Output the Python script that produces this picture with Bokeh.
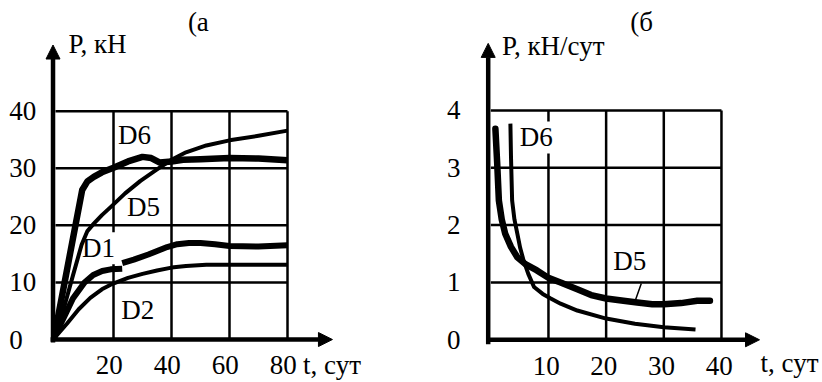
from bokeh.plotting import figure
from bokeh.layouts import row
from bokeh.models import Range1d, Arrow, NormalHead
from bokeh.core.properties import value
from bokeh.embed import file_html
from bokeh.resources import INLINE

FONT = value("Liberation Serif")
FS = value("27px")

# ---------------- chart (а) ----------------
a_t_ticks = [20, 40, 60, 80]
a_t_labels = ["20", "40", "60", "80"]
a_p_ticks = [0, 10, 20, 30, 40]
a_p_labels = ["0", "10", "20", "30", "40"]

a_d6_t = [-0.5, 9.2, 11, 13.2, 16, 20, 25, 30, 33, 36, 40, 44, 50, 60, 70, 80]
a_d6_p = [0.3, 26.2, 27.7, 28.5, 29.3, 30.1, 31.2, 32.0, 31.8, 31.0, 31.2, 31.5, 31.6, 31.8, 31.7, 31.4]

a_d5_t = [-0.5, 3, 6, 9, 11, 13.2, 16, 19, 24, 29.3, 35, 40, 45, 52, 60, 70, 80]
a_d5_p = [0.3, 5.7, 11.2, 16.6, 19.0, 20.3, 21.8, 23.2, 25.6, 27.8, 29.8, 31.5, 32.8, 34.0, 34.9, 35.7, 36.6]

a_d1a_t = [-0.5, 3, 6, 10, 13, 16.1, 19, 23]
a_d1a_p = [0.3, 4.0, 7.2, 10.0, 11.3, 12.0, 12.3, 12.4]
a_d1b_t = [23, 27, 32, 38.5, 42, 46, 50, 55, 60, 70, 80]
a_d1b_p = [13.4, 14.0, 14.9, 16.2, 16.7, 16.9, 16.9, 16.7, 16.4, 16.3, 16.5]

a_d2_t = [-0.5, 4, 8, 12, 16, 19, 25, 30, 35, 40, 45, 52, 60, 70, 80]
a_d2_p = [0.2, 2.8, 5.3, 7.3, 8.8, 9.6, 10.8, 11.5, 12.1, 12.6, 12.9, 13.1, 13.1, 13.1, 13.1]

a_lab_text = ["D6", "D5", "D1", "D2"]
a_lab_t = [27.2, 30.3, 14.8, 28.4]
a_lab_p = [35.8, 23.2, 16.0, 5.1]

# ---------------- chart (б) ----------------
b_t_ticks = [10, 20, 30, 40]
b_t_labels = ["10", "20", "30", "40"]
b_p_ticks = [0, 1, 2, 3, 4]
b_p_labels = ["0", "1", "2", "3", "4"]

b_d5_t = [0.8, 1.1, 1.4, 1.9, 2.5, 3.5, 4.6, 6, 8, 10, 12.1, 15, 17.4, 20, 23, 25.4, 28, 30, 33, 35.8, 38]
b_d5_p = [3.68, 3.1, 2.43, 2.1, 1.85, 1.62, 1.44, 1.32, 1.21, 1.08, 1.0, 0.88, 0.78, 0.72, 0.68, 0.65, 0.62, 0.62, 0.64, 0.68, 0.68]

b_d6_t = [3.4, 3.5, 3.7, 4.1, 4.6, 5.1, 5.7, 6.5, 7.5, 9, 10.4, 12.1, 15, 20, 25, 30, 35.5]
b_d6_p = [3.77, 3.2, 2.43, 2.1, 1.85, 1.6, 1.38, 1.15, 0.92, 0.8, 0.72, 0.63, 0.51, 0.37, 0.28, 0.22, 0.18]

b_lab_text = ["D6", "D5"]
b_lab_t = [7.9, 24.1]
b_lab_p = [3.53, 1.37]
b_lead_t = [26.1, 25.1]
b_lead_p = [0.98, 0.70]


def make_fig(w, h, xr, yr):
    p = figure(width=w, height=h, x_range=Range1d(*xr), y_range=Range1d(*yr),
               output_backend="svg", toolbar_location=None, min_border=0,
               x_axis_type=None, y_axis_type=None, outline_line_color=None)
    p.background_fill_color = "white"
    p.border_fill_color = "white"
    return p


def grid(p, xt, yt):
    x0, x1 = 0, max(xt)
    y0, y1 = 0, max(yt)
    hy = [v for v in yt if v != 0]
    p.segment(x0=[x0] * len(hy), x1=[x1] * len(hy), y0=hy, y1=hy, line_color="black", line_width=2.5)
    p.segment(x0=xt, x1=xt, y0=[y0] * len(xt), y1=[y1] * len(xt), line_color="black", line_width=2.5)


def axes(p, x_start, y_start, x_tip, y_tip, x_axis_y, y_axis_x):
    p.add_layout(Arrow(end=NormalHead(size=14, fill_color="black", line_color="black", line_width=1),
                       x_start=y_axis_x, y_start=y_start, x_end=y_axis_x, y_end=y_tip,
                       line_color="black", line_width=4.5))
    p.add_layout(Arrow(end=NormalHead(size=14, fill_color="black", line_color="black", line_width=1),
                       x_start=x_start, y_start=x_axis_y, x_end=x_tip, y_end=x_axis_y,
                       line_color="black", line_width=4.5))


def txt(p, x, y, t, align="left"):
    p.text(x=x, y=y, text=t, text_font=FONT, text_font_size=FS, text_color="black",
           text_align=align, text_baseline="middle",
           background_fill_color="white", padding=1)


# ---- figure (а)
p1 = make_fig(411, 382, (-18.97, 122.76), (-7.53, 59.40))
grid(p1, a_t_ticks, a_p_ticks)
txt(p1, a_lab_t, a_lab_p, a_lab_text, align="center")
p1.line(a_d2_t, a_d2_p, line_color="black", line_width=4, line_join="round")
p1.line(a_d5_t, a_d5_p, line_color="black", line_width=4, line_join="round")
p1.line(a_d1a_t, a_d1a_p, line_color="black", line_width=6, line_join="round")
p1.line(a_d1b_t, a_d1b_p, line_color="black", line_width=6, line_join="round")
p1.line(a_d6_t, a_d6_p, line_color="black", line_width=6.5, line_join="round")
axes(p1, -1.7, -0.5, 95.5, 51.6, 0, -0.86)
txt(p1, [-16.3] * len(a_p_ticks), a_p_ticks, a_p_labels)
txt(p1, [v - 1.5 for v in a_t_ticks], [-4.55] * len(a_t_ticks), a_t_labels, align="center")
txt(p1, [85.0], [-4.55], ["t, сут"])
txt(p1, [4.1], [51.8], ["P, кН"])
txt(p1, [45.3], [55.6], ["(а"])

# ---- figure (б)
p2 = make_fig(411, 382, (-13.75, 57.52), (-0.745, 5.918))
grid(p2, b_t_ticks, b_p_ticks)
txt(p2, b_lab_t, b_lab_p, b_lab_text, align="center")
p2.line(b_lead_t, b_lead_p, line_color="black", line_width=1.5)
p2.line(b_d6_t, b_d6_p, line_color="black", line_width=4, line_join="round")
p2.line(b_d5_t, b_d5_p, line_color="black", line_width=6.5, line_join="round", line_cap="round")
axes(p2, -0.5, -0.08, 46.6, 5.17, 0, -0.45)
txt(p2, [-5.1] * len(b_p_ticks), b_p_ticks, b_p_labels, align="right")
txt(p2, [v - 0.4 for v in b_t_ticks], [-0.45] * len(b_t_ticks), b_t_labels, align="center")
txt(p2, [46.6], [-0.4], ["t, сут"])
txt(p2, [1.75], [5.13], ["P, кН/сут"])
txt(p2, [24.0], [5.55], ["(б"])

layout = row(p1, p2)
open("out.html", "w").write(file_html(layout, INLINE))
